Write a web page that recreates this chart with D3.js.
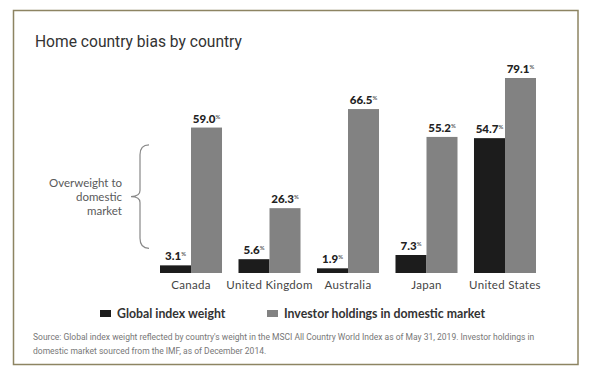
<!DOCTYPE html>
<html><head><meta charset="utf-8">
<script src="https://cdn.jsdelivr.net/npm/d3@7"></script>
<style>
html,body{margin:0;padding:0;background:#fff;}
svg{display:block;font-family:Lato,"Open Sans",sans-serif;}
</style></head>
<body>
<svg id="c" width="600" height="381"></svg>
<script>
const categories = ["Canada","United Kingdom","Australia","Japan","United States"];
const globalWeight = [3.1, 5.6, 1.9, 7.3, 54.7];
const domesticHoldings = [59.0, 26.3, 66.5, 55.2, 79.1];
const seriesNames = ["Global index weight","Investor holdings in domestic market"];
const colors = ["#1c1c1c","#828282"];
const bracketRange = [10, 52];
const annotation = ["Overweight to","domestic","market"];
const sourceLines = ["Source: Global index weight reflected by country's weight in the MSCI All Country World Index as of May 31, 2019. Investor holdings in",
  "domestic market sourced from the IMF, as of December 2014."];

const svg = d3.select("#c");
svg.append("rect").attr("x",13.5).attr("y",10.5).attr("width",564.5).attr("height",354)
  .attr("fill","#fff").attr("stroke","#8d8462").attr("stroke-width",1.5);

svg.append("text").attr("x",35).attr("y",47).attr("font-family","Roboto").attr("font-size",15.6).attr("fill","#333")
  .text("Home country bias by country");

const x = d3.scaleBand().domain(categories).range([160,536]).paddingInner(0.21).paddingOuter(0);
const y = d3.scaleLinear().domain([0,79.1]).range([273,78]);
const xs = d3.scaleBand().domain([0,1]).range([0,x.bandwidth()]);

const data = categories.map((c,i)=>({c, vals:[globalWeight[i], domesticHoldings[i]]}));
const g = svg.append("g");
data.forEach(d=>{
  d.vals.forEach((v,k)=>{
    const bx = x(d.c)+xs(k);
    g.append("rect").attr("x",bx).attr("y",y(v)).attr("width",xs.bandwidth()).attr("height",y(0)-y(v)).attr("fill",colors[k]);
    const t = g.append("text").attr("x",bx+xs.bandwidth()/2).attr("y",y(v)-5)
      .attr("text-anchor","middle").attr("font-size",11.5).attr("font-weight",900).attr("fill","#222");
    t.append("tspan").text(v.toFixed(1));
    t.append("tspan").attr("font-size",6).attr("font-weight",400).attr("dy",-4).text("%");
  });
});

// category labels
g.selectAll(".cat").data(categories).enter().append("text")
  .attr("x",d=>x(d)+x.bandwidth()/2).attr("y",289).attr("text-anchor","middle")
  .attr("font-size",11.5).attr("fill","#444").attr("letter-spacing",0.3).text(d=>d);

// bracket
const bt = y(bracketRange[1]), bb = y(bracketRange[0]), bm = (bt+bb)/2;
const vx = 140, ex = 149, tip = 131;
svg.append("path").attr("fill","none").attr("stroke","#888").attr("stroke-width",1.2)
  .attr("d",`M${ex},${bt} Q${vx},${bt} ${vx},${bt+10} L${vx},${bm-6} Q${vx},${bm} ${tip},${bm} Q${vx},${bm} ${vx},${bm+6} L${vx},${bb-10} Q${vx},${bb} ${ex},${bb}`);
svg.append("g").selectAll("text").data(annotation).enter().append("text")
  .attr("x",122).attr("y",(d,i)=>bm-14+i*14+4).attr("text-anchor","end")
  .attr("font-size",11.5).attr("fill","#5a5a5a").text(d=>d);

// legend
const legX = [100, 267];
seriesNames.forEach((n,k)=>{
  svg.append("rect").attr("x",legX[k]).attr("y",310).attr("width",11).attr("height",7).attr("fill",colors[k]);
  svg.append("text").attr("x",legX[k]+17).attr("y",317.5).attr("font-size",12.3).attr("font-weight",700)
    .attr("fill","#333").text(n);
});

// source
svg.append("g").selectAll("text").data(sourceLines).enter().append("text")
  .attr("x",33).attr("y",(d,i)=>340+i*13.5).attr("font-family","Roboto").attr("font-size",8.5).attr("fill","#777").text(d=>d);
</script>
</body></html>
